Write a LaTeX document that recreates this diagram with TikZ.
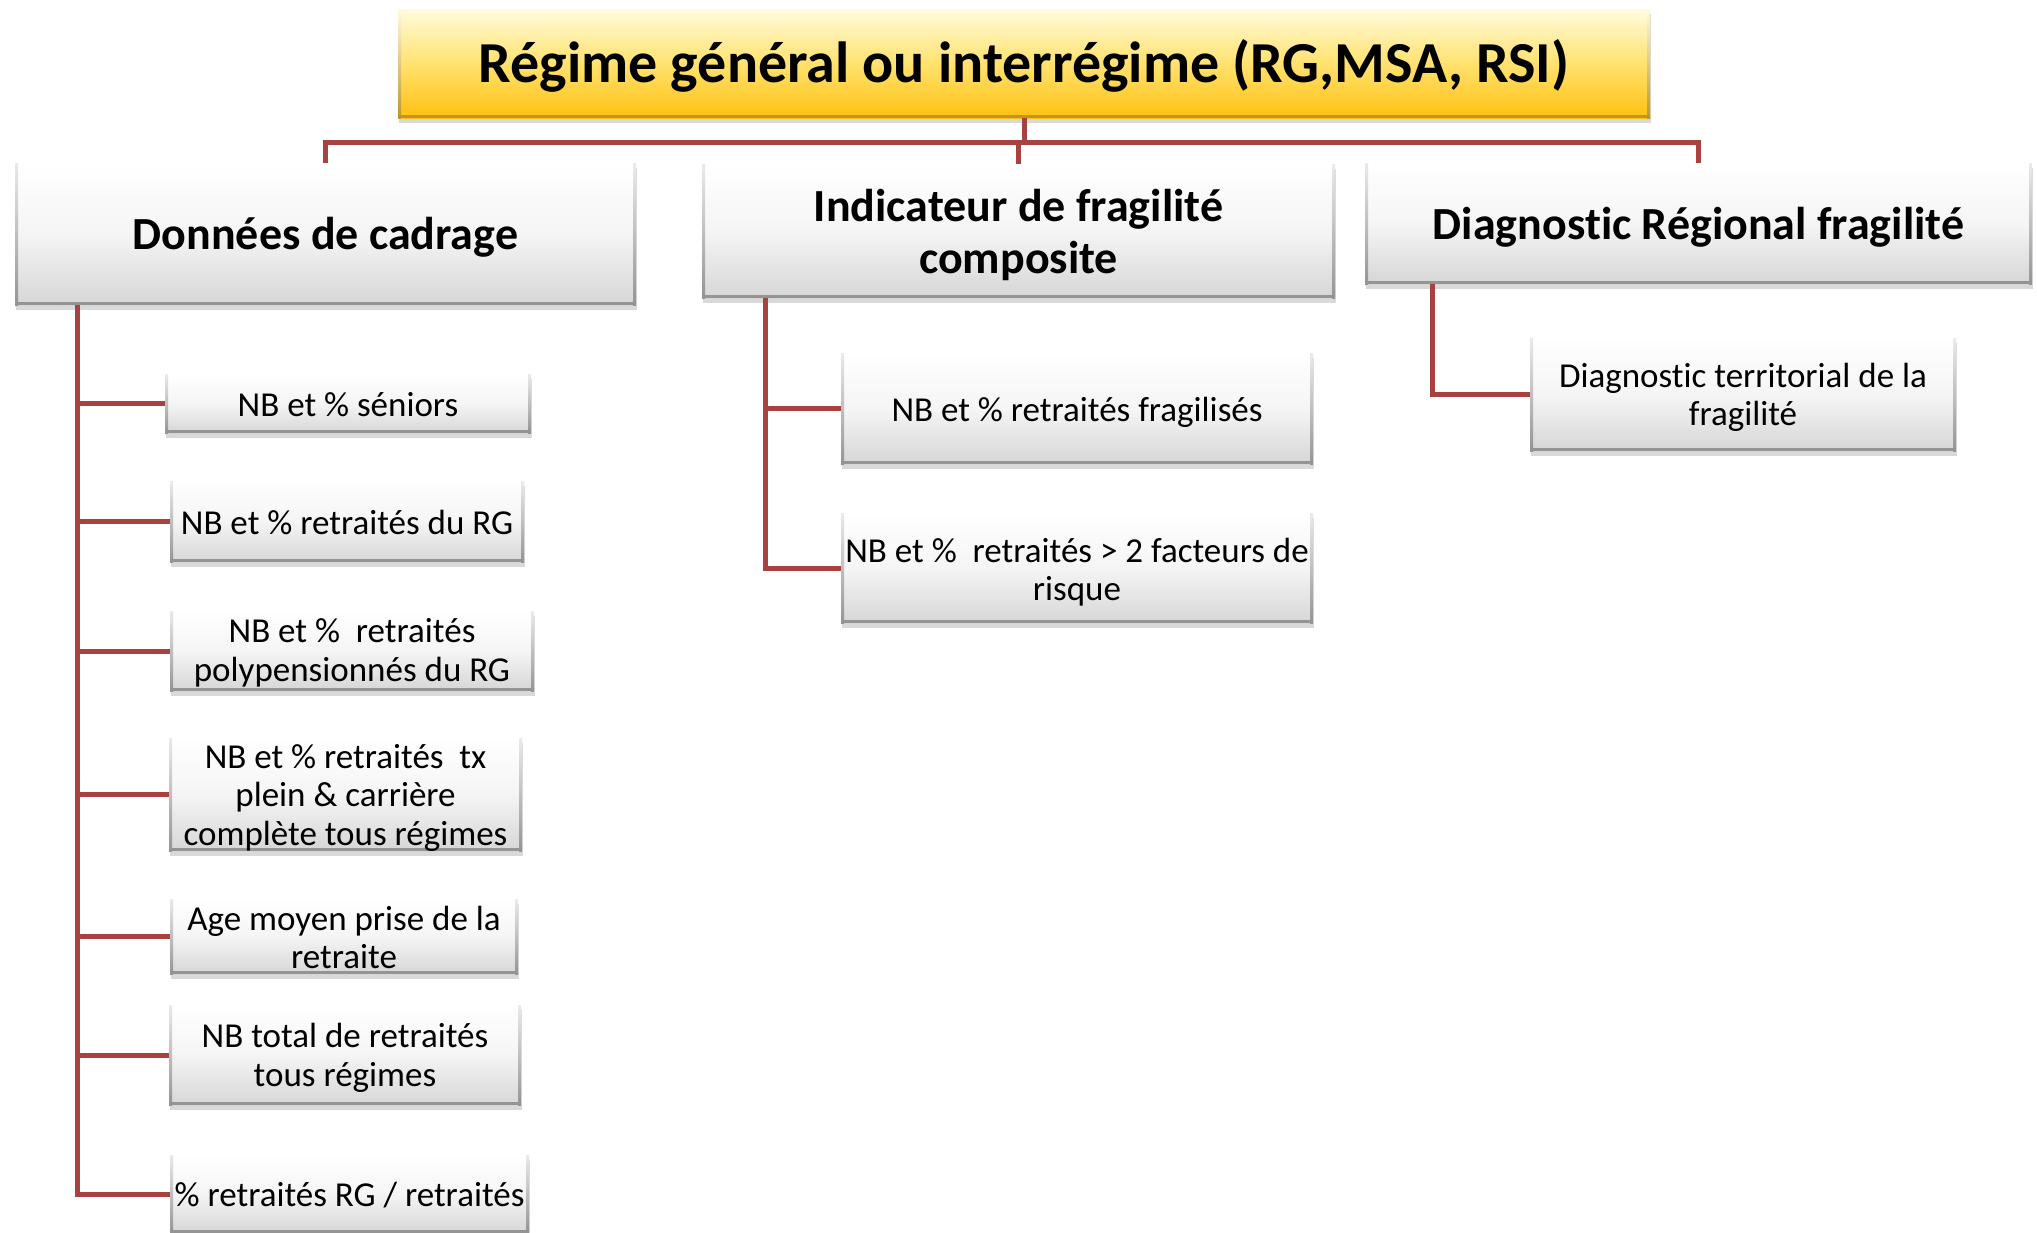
\documentclass[tikz,border=0pt]{standalone}
\usepackage{fontspec}
\setmainfont[Ligatures=NoCommon]{Carlito}
\usetikzlibrary{shadows,calc}
\definecolor{linkred}{RGB}{168,66,64}
\definecolor{ytop}{RGB}{255,252,222}
\definecolor{ymid}{RGB}{255,226,110}
\definecolor{ybot}{RGB}{255,192,16}
\definecolor{yedge}{RGB}{190,150,40}
\begin{document}
\begin{tikzpicture}[x=1pt,y=-1pt,
  box/.style={rectangle, inner sep=0pt, draw=none,
    top color=white, bottom color=black!16, middle color=white!96!black,
    drop shadow={opacity=0.3, shadow xshift=1pt, shadow yshift=-5pt},
    path picture={
      \shade[top color=black!8, bottom color=black!42]
        (path picture bounding box.north west) rectangle ([xshift=3pt]path picture bounding box.south west);
      \shade[top color=black!8, bottom color=black!42]
        (path picture bounding box.north east) rectangle ([xshift=-3pt]path picture bounding box.south east);
      \fill[black!42] (path picture bounding box.south west) rectangle ([yshift=3.5pt]path picture bounding box.south east);
    }},
  titlebox/.style={rectangle, inner sep=0pt, draw=none,
    top color=ytop, bottom color=ybot, middle color=ymid,
    drop shadow={opacity=0.3, shadow xshift=1pt, shadow yshift=-5pt},
    path picture={
      \shade[top color=ytop, bottom color=yedge]
        (path picture bounding box.north west) rectangle ([xshift=3pt]path picture bounding box.south west);
      \shade[top color=ytop, bottom color=yedge]
        (path picture bounding box.north east) rectangle ([xshift=-3pt]path picture bounding box.south east);
      \fill[yedge] (path picture bounding box.south west) rectangle ([yshift=3.5pt]path picture bounding box.south east);
    }},
  titletx/.style={inner sep=0pt, align=center, font=\fontsize{58}{64}\selectfont\bfseries},
  headtx/.style={inner sep=0pt, align=center, font=\fontsize{46}{52}\selectfont\bfseries},
  itemtx/.style={inner sep=0pt, align=center, font=\fontsize{35}{38.5}\selectfont},
  link/.style={draw=linkred, line width=5pt},
  ]
\path[use as bounding box, clip] (0,0) rectangle (2037,1232);

% top level
\node[titlebox, minimum width=1252pt, minimum height=109pt] (title) at (1024,63.5) {};
\node[titletx] (titlet) at ([yshift=-2pt]title.center) {Régime général ou interrégime (RG,MSA, RSI)};

% second level
\node[box, minimum width=621pt, minimum height=142pt] (dc) at (325.5,234) {};
\node[headtx] (dct) at ([yshift=-3pt]dc.center) {Données de cadrage};
\node[box, minimum width=633pt, minimum height=134pt] (ifc) at (1018.5,231) {};
\node[headtx] (ifct) at ([yshift=-4pt]ifc.center) {Indicateur de fragilité\\composite};
\node[box, minimum width=667pt, minimum height=121pt] (drf) at (1698.5,223.5) {};
\node[headtx] (drft) at ([yshift=-4pt]drf.center) {Diagnostic Régional fragilité};

% left column
\node[box, minimum width=366pt, minimum height=59pt] (b1) at (348,403.5) {};
\node[itemtx] (b1t) at ([yshift=-1pt]b1.center) {NB et \% séniors};
\node[box, minimum width=354pt, minimum height=81pt] (b2) at (347,521.5) {};
\node[itemtx] (b2t) at ([yshift=-1pt]b2.center) {NB et \% retraités du RG};
\node[box, minimum width=364pt, minimum height=80pt] (b3) at (352,651) {};
\node[itemtx] (b3t) at ([yshift=-2pt]b3.center) {NB et \%\ \ retraités\\polypensionnés du RG};
\node[box, minimum width=353pt, minimum height=113pt] (b4) at (345.5,794.5) {};
\node[itemtx] (b4t) at ([yshift=-3pt]b4.center) {NB et \% retraités\ \ tx\\plein \& carrière\\complète tous régimes};
\node[box, minimum width=348pt, minimum height=75pt] (b5) at (344,936.5) {};
\node[itemtx] (b5t) at ([yshift=-1pt]b5.center) {Age moyen prise de la\\retraite};
\node[box, minimum width=352pt, minimum height=100pt] (b6) at (345,1055) {};
\node[itemtx] (b6t) at ([yshift=-3pt]b6.center) {NB total de retraités\\tous régimes};
\node[box, minimum width=359pt, minimum height=78pt] (b7) at (349.5,1194) {};
\node[itemtx] (b7t) at ([yshift=-1pt]b7.center) {\% retraités RG / retraités};

% middle column
\node[box, minimum width=472pt, minimum height=111pt] (m1) at (1077,408.5) {};
\node[itemtx] (m1t) at ([yshift=-4pt]m1.center) {NB et \% retraités fragilisés};
\node[box, minimum width=472pt, minimum height=110pt] (m2) at (1077,568) {};
\node[itemtx] (m2t) at ([yshift=-4pt]m2.center) {NB et \%\ \ retraités > 2 facteurs de\\risque};

% right column
\node[box, minimum width=426pt, minimum height=113pt] (r1) at (1743,394.5) {};
\node[itemtx] (r1t) at ([yshift=-3pt]r1.center) {Diagnostic territorial de la\\fragilité};

% connectors
\coordinate (hub) at ($(title.south)+(0,24)$);
\coordinate (lt) at ([xshift=63pt]dc.south west);
\coordinate (mt) at ([xshift=64pt]ifc.south west);
\coordinate (rt) at ([xshift=68pt]drf.south west);

\draw[link] (title.south) -- (hub);
\draw[link] (dc.north) |- (hub) -| (drf.north);
\draw[link] (ifc.north) |- (hub);

\foreach \b in {b1,b2,b3,b4,b5,b6,b7}{\draw[link] (lt) |- (\b.west);}
\foreach \b in {m1,m2}{\draw[link] (mt) |- (\b.west);}
\draw[link] (rt) |- (r1.west);
\end{tikzpicture}
\end{document}
